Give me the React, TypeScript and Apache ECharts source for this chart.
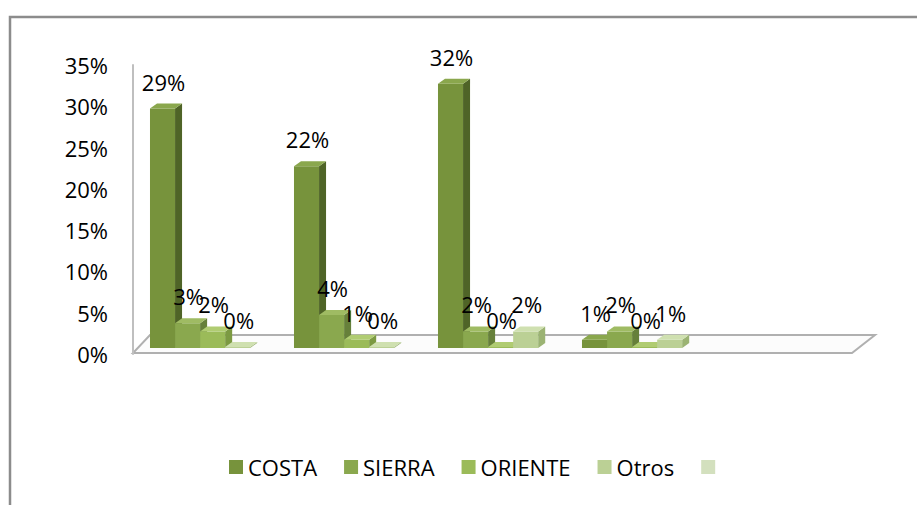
import React, { useEffect, useRef } from "react";
import * as echarts from "echarts";

const categories = ["1", "2", "3", "4", "5"];
const seriesNames = ["COSTA", "SIERRA", "ORIENTE", "Otros", " "];
const costa = [29, 22, 32, 1];
const sierra = [3, 4, 2, 2];
const oriente = [2, 1, 0, 0];
const otros = [0, 0, 2, 1];
const blank: number[] = [];
const yTicks = [0, 5, 10, 15, 20, 25, 30, 35];

const seriesValues = [costa, sierra, oriente, otros, blank];
const frontColors = ["#77933C", "#8AA84E", "#9BBB59", "#BBD095", "#D3E0BE"];
const sideColors = ["#4f6427", "#66803a", "#7c9a42", "#9bb373", "#b3c39a"];
const topColors = ["#8aa74d", "#9fbb63", "#b0cc72", "#cfe0b0", "#e2ebd3"];

const FONT = '"Open Sans", sans-serif';

export default function App() {
  const ref = useRef<HTMLDivElement>(null);
  useEffect(() => {
    document.body.style.margin = "0";
    const chart = echarts.init(ref.current!, null, { renderer: "svg" });
    const DX = 7;
    const DY = 5;
    const LIFT = 6;
    const makeRender = (i: number) => (params: any, api: any) => {
      const cat = api.value(0);
      const v = api.value(1);
      const base = api.coord([cat, 0]);
      const topP = api.coord([cat, v]);
      const band = api.size([1, 0])[0];
      const w = band * 0.174;
      const x0 = base[0] - band / 2 + band * 0.118 + i * w;
      const yb = base[1] - LIFT;
      const yt = Math.min(topP[1] - LIFT, yb - 1);
      const front = {
        type: "rect",
        shape: { x: x0, y: yt, width: w, height: yb - yt },
        style: { fill: frontColors[i] },
      };
      const side = {
        type: "polygon",
        shape: {
          points: [
            [x0 + w, yt],
            [x0 + w + DX, yt - DY],
            [x0 + w + DX, yb - DY],
            [x0 + w, yb],
          ],
        },
        style: { fill: sideColors[i] },
      };
      const top = {
        type: "polygon",
        shape: {
          points: [
            [x0, yt],
            [x0 + DX, yt - DY],
            [x0 + w + DX, yt - DY],
            [x0 + w, yt],
          ],
        },
        style: { fill: topColors[i] },
      };
      const label = {
        type: "text",
        x: x0 + w / 2 + 1,
        y: yt - 27,
        z2: 100,
        style: {
          text: v + "%",
          fill: "#000",
          fontSize: 22,
          fontFamily: FONT,
          align: "center",
          verticalAlign: "middle",
        },
      };
      return { type: "group", children: [front, side, top, label] };
    };

    const series = seriesNames.map((name, i) => ({
      name,
      type: "custom",
      renderItem: makeRender(i),
      itemStyle: { color: frontColors[i] },
      data: seriesValues[i].map((v, c) => [c, v]),
      encode: { x: 0, y: 1 },
    }));

    chart.setOption({
      animation: false,
      backgroundColor: "#ffffff",
      grid: { left: 133, right: 64, top: 65, bottom: 151 },
      xAxis: {
        type: "category",
        data: categories,
        axisLine: { show: false },
        axisTick: { show: false },
        axisLabel: { show: false },
      },
      yAxis: {
        type: "value",
        min: 0,
        max: yTicks[yTicks.length - 1],
        interval: 5,
        splitLine: { show: false },
        axisLine: { show: true, lineStyle: { color: "#bfbfbf", width: 2 } },
        axisTick: { show: false },
        axisLabel: {
          formatter: "{value}%",
          color: "#000",
          fontSize: 22,
          fontFamily: FONT,
          margin: 25,
        },
      },
      legend: {
        data: seriesNames,
        left: 224,
        top: 451,
        icon: "rect",
        itemWidth: 14,
        itemHeight: 14,
        itemGap: 27,
        textStyle: { color: "#000", fontSize: 22, fontFamily: FONT },
        selectedMode: false,
      },
      graphic: [
        {
          type: "polyline",
          z: -1,
          shape: { points: [[10, 505], [10, 17], [917, 17]] },
          style: { stroke: "#8c8c8c", lineWidth: 2.5, fill: "none" },
        },
        {
          type: "polygon",
          z: -1,
          shape: { points: [[133, 353], [852, 353], [875, 335], [150, 335]] },
          style: { fill: "#fcfcfc", stroke: "#b0b0b0", lineWidth: 2 },
        },
      ],
      series,
    });
    return () => chart.dispose();
  }, []);
  return <div ref={ref} style={{ width: 917, height: 505 }} />;
}
